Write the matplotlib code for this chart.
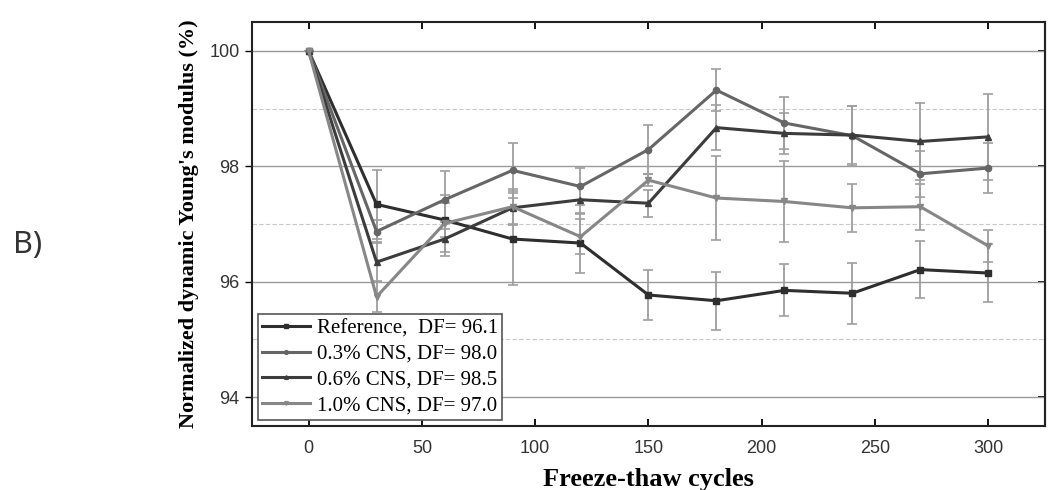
import matplotlib
matplotlib.use("Agg")
import matplotlib.pyplot as plt
from matplotlib.ticker import MultipleLocator

cycles = [0, 30, 60, 90, 120, 150, 180, 210, 240, 270, 300]

labels = ["Reference,  DF= 96.1", "0.3% CNS, DF= 98.0",
          "0.6% CNS, DF= 98.5", "1.0% CNS, DF= 97.0"]

ref_vals = [100, 97.34, 97.07, 96.74, 96.67, 95.77, 95.67, 95.85, 95.80, 96.21, 96.15]
ref_err = [0, 0.60, 0.30, 0.80, 0.52, 0.44, 0.50, 0.45, 0.53, 0.50, 0.50]

cns03_vals = [100, 96.87, 97.42, 97.93, 97.65, 98.29, 99.32, 98.75, 98.53, 97.87, 97.97]
cns03_err = [0, 0.20, 0.50, 0.48, 0.32, 0.43, 0.36, 0.45, 0.52, 0.40, 0.43]

cns06_vals = [100, 96.34, 96.74, 97.28, 97.42, 97.36, 98.67, 98.57, 98.54, 98.43, 98.51]
cns06_err = [0, 0.35, 0.30, 0.30, 0.25, 0.23, 0.39, 0.36, 0.50, 0.67, 0.74]

cns10_vals = [100, 95.74, 97.01, 97.30, 96.78, 97.76, 97.45, 97.39, 97.28, 97.30, 96.62]
cns10_err = [0, 0.27, 0.50, 0.30, 0.30, 0.10, 0.72, 0.70, 0.42, 0.40, 0.27]

series = [
    (ref_vals, ref_err, "#2e2e2e", "s"),
    (cns03_vals, cns03_err, "#666666", "o"),
    (cns06_vals, cns06_err, "#3c3c3c", "^"),
    (cns10_vals, cns10_err, "#878787", "v"),
]

fig = plt.figure(figsize=(10.52, 4.90), dpi=100)
ax = fig.add_axes([0.2395, 0.1306, 0.7538, 0.8245])

ax.yaxis.set_major_locator(MultipleLocator(2))
ax.yaxis.set_minor_locator(MultipleLocator(1))
ax.grid(True, which="major", axis="y", color="#9a9a9a", lw=1.0, ls="-")
ax.grid(True, which="minor", axis="y", color="#c8c8c8", lw=0.8, ls=(0, (4, 2)))
ax.set_axisbelow(True)

for (vals, err, col, mk), lab in zip(series, labels):
    ax.errorbar(cycles, vals, yerr=err, fmt="none", ecolor="#9e9e9e",
                elinewidth=1.3, capsize=3.5, capthick=1.2, zorder=2)
for (vals, err, col, mk), lab in zip(series, labels):
    ax.plot(cycles, vals, color=col, lw=2.2, marker=mk, markersize=4.5,
            markerfacecolor=col, markeredgecolor=col, label=lab, zorder=3)

ax.set_xlim(-25, 325)
ax.set_ylim(93.5, 100.5)
ax.set_xticks([0, 50, 100, 150, 200, 250, 300])
ax.set_yticks([94, 96, 98, 100])

tickfont = ["Liberation Sans Narrow", "Liberation Sans", "DejaVu Sans"]
for lbl in ax.get_xticklabels() + ax.get_yticklabels():
    lbl.set_family(tickfont)
    lbl.set_fontsize(13)
    lbl.set_color("#333333")

ax.tick_params(axis="x", which="major", direction="in", top=True, length=5, width=1.3, pad=10)
ax.tick_params(axis="y", which="major", direction="out", right=False, length=5, width=1.0, pad=4)
ax.tick_params(axis="y", which="minor", length=0)

sec = ax.secondary_yaxis("right")
sec.set_yticks([94, 96, 98, 100])
sec.tick_params(axis="y", direction="in", length=5, width=1.3, labelright=False)
sec.spines["right"].set_linewidth(1.5)
sec.spines["right"].set_color("#222222")

for sp in ax.spines.values():
    sp.set_linewidth(1.5)
    sp.set_color("#222222")

ax.set_xlabel("Freeze-thaw cycles", family=["Liberation Serif", "DejaVu Serif"],
              fontweight="bold", fontsize=19, labelpad=8)
ax.set_ylabel("Normalized dynamic Young's modulus (%)",
              family=["Liberation Serif", "DejaVu Serif"],
              fontweight="bold", fontsize=16, labelpad=7)

leg = ax.legend(loc="lower left", prop={"family": ["Liberation Serif", "DejaVu Serif"], "size": 15},
                frameon=True, fancybox=False, edgecolor="#555555", framealpha=1,
                handlelength=2.3, handletextpad=0.3, labelspacing=0.3,
                borderpad=0.2, borderaxespad=0.3, markerscale=0.6)
leg.get_frame().set_linewidth(1.2)

fig.text(0.012, 0.5, "B)", family=["Noto Sans", "DejaVu Sans"], fontsize=22,
         color="#333333", va="center", ha="left", fontweight="light")

fig.savefig("out.png", dpi=100)
